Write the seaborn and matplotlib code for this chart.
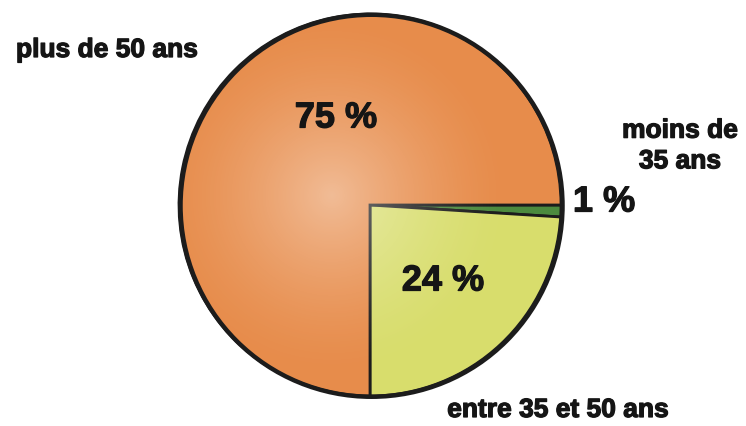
import numpy as np
import matplotlib
matplotlib.use("Agg")
import matplotlib.pyplot as plt
import matplotlib.patheffects as pe
import seaborn as sns
from matplotlib.patches import Circle

# Age groups, clockwise from 3 o'clock
groups = ["moins de\n35 ans", "entre 35 et 50 ans", "plus de 50 ans"]
shares = [1, 24, 75]
pct_labels = ["1 %", "24 %", "75 %"]
colors = ["#4C8A3E", "#D8DD6C", "#E78C4B"]

sns.set_theme(style="white")
plt.rcParams["font.family"] = ["Liberation Sans", "DejaVu Sans"]

W, H = 7.46, 4.26
fig = plt.figure(figsize=(W, H), dpi=100)
ax = fig.add_axes([0, 0, 1, 1])

# Pie geometry in pixel units: centre (370, 205), radius 191
R = 191.0
cx, cy = 370.0, 205.0
xlim = (-cx / R, (746 - cx) / R)
ylim = (-(426 - cy) / R, cy / R)

ax.pie(shares, colors=colors, startangle=0, counterclock=False,
       radius=1.0, center=(0, 0), frame=True,
       wedgeprops=dict(edgecolor="#1c1c1c", linewidth=2.0))

# soft highlight towards the middle of the disc
n = 400
xs = np.linspace(-1, 1, n)
X, Y = np.meshgrid(xs, xs)
d = np.sqrt((X + 0.2) ** 2 + (Y - 0.05) ** 2)
alpha = np.clip(1 - d / 0.95, 0, 1) ** 1.5 * 0.42
rgba = np.ones((n, n, 4))
rgba[..., 3] = alpha
im = ax.imshow(rgba, extent=(-1, 1, -1, 1), origin="lower", zorder=1.5,
               interpolation="bilinear")
im.set_clip_path(Circle((0, 0), 1.0, transform=ax.transData))

# darker rim on the right-hand side
ax.add_patch(Circle((0.008, -0.004), 1.0, fill=False, edgecolor="#1c1c1c",
                    linewidth=3.2, zorder=3))

ax.set_xlim(*xlim)
ax.set_ylim(*ylim)
ax.set_aspect("auto")
ax.axis("off")


def px(x, y):
    return ((x - cx) / R, (cy - y) / R)


heavy = [pe.withStroke(linewidth=0.9, foreground="#151515")]
txt = dict(fontweight="bold", color="#151515", ha="center", va="center",
           zorder=5, path_effects=heavy)

# percentage labels
ax.text(*px(604, 202), pct_labels[0], fontsize=26, **txt)
ax.text(*px(443, 281), pct_labels[1], fontsize=26, **txt)
ax.text(*px(336, 118), pct_labels[2], fontsize=26, **txt)

# group labels
ax.text(*px(680, 146), groups[0], fontsize=19, linespacing=1.35, **txt)
ax.text(*px(558, 410), groups[1], fontsize=19, **txt)
ax.text(*px(107, 50), groups[2], fontsize=19, **txt)

fig.savefig("out.png", dpi=100, facecolor="white")
